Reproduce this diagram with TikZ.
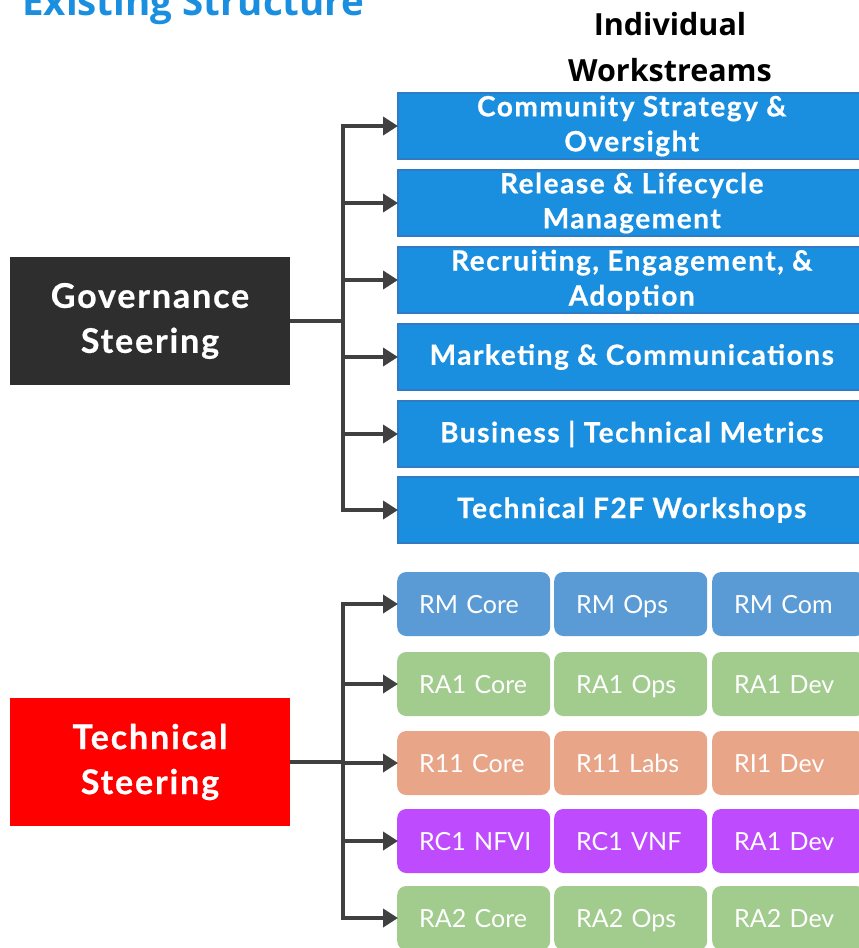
\documentclass[tikz,border=0pt]{standalone}
\usepackage{fontspec}
\setmainfont{Lato}
\newfontfamily\titlefont{Open Sans}
\newfontfamily\wsfont{Lato}[LetterSpace=5.5, BoldFeatures={FakeBold=0.6}]
\usetikzlibrary{arrows.meta}
\definecolor{wsblue}{HTML}{1A8FE0}
\definecolor{wsborder}{HTML}{2F7BC4}
\definecolor{govgray}{HTML}{2E2E2E}
\definecolor{conn}{HTML}{404040}
\definecolor{rmblue}{HTML}{5B9BD5}
\definecolor{rgreen}{HTML}{A2CB8E}
\definecolor{rorange}{HTML}{E8A587}
\definecolor{rpurple}{HTML}{BE4BFE}
\definecolor{titleblue}{HTML}{1A8FE0}
\tikzset{
  wsbox/.style={fill=wsblue, draw=wsborder, line width=1.5pt, minimum width=468pt, minimum height=66pt,
    text=white, font=\wsfont\fontsize{28}{35}\selectfont\bfseries, align=center, inner sep=0pt, anchor=west},
  steerbox/.style={minimum width=280pt, minimum height=128pt, text=white,
    font=\wsfont\fontsize{34}{45}\selectfont\bfseries, align=center, inner sep=0pt},
  wgbox/.style={rounded corners=9pt, minimum height=64pt, text=white,
    font=\fontsize{25}{29}\selectfont, align=left, text width=109pt, text height=21pt, text depth=3pt,
    inner xsep=22pt, inner ysep=0pt, anchor=west},
  linkline/.style={conn, line width=4.5pt},
  arr/.style={conn, line width=4.5pt, -{Triangle[length=15pt,width=18pt]}, shorten >=-1pt},
}
\begin{document}
\begin{tikzpicture}[x=1pt,y=-1pt]
\useasboundingbox (0,0) rectangle (859,948);
\clip (0,0) rectangle (859,948);
\fill[white] (0,0) rectangle (859,948);

\node[anchor=base west, inner sep=0pt, text=titleblue, font=\titlefont\fontsize{38.5}{42}\selectfont\bfseries] (title) at (22,15) {Existing Structure};
\node[align=center, inner sep=0pt, font=\titlefont\fontsize{30.5}{46}\selectfont\bfseries] (ind) at (670,47) {Individual\\Workstreams};

% steering boxes
\node[steerbox, fill=govgray] (gov) at (150,321) {Governance\\Steering};
\node[steerbox, fill=red] (tech) at (150,762) {Technical\\Steering};

% workstreams
\node[wsbox] (w1) at (397,126) {Community Strategy \&\\Oversight};
\node[wsbox] (w2) at (397,203) {Release \& Lifecycle\\Management};
\node[wsbox] (w3) at (397,280) {Recruiting, Engagement, \&\\Adoption};
\node[wsbox] (w4) at (397,357) {Marketing \& Communications};
\node[wsbox] (w5) at (397,434) {Business | Technical Metrics};
\node[wsbox] (w6) at (397,510) {Technical F2F Workshops};

% workgroups
\foreach \r/\y/\c/\a/\b/\d in {1/604/rmblue/RM Core/RM Ops/RM Com,
  2/684/rgreen/RA1 Core/RA1 Ops/RA1 Dev,
  3/763/rorange/R11 Core/R11 Labs/RI1 Dev,
  4/841/rpurple/RC1 NFVI/RC1 VNF/RA1 Dev,
  5/918/rgreen/RA2 Core/RA2 Ops/RA2 Dev}{
  \node[wgbox, fill=\c] (g\r a) at (397,\y) {\mbox{\a}};
  \node[wgbox, fill=\c] (g\r b) at (554,\y) {\mbox{\b}};
  \node[wgbox, fill=\c] (g\r c) at (712,\y) {\mbox{\d}};
}

% governance connectors
\coordinate (gj) at (343,321);
\coordinate (gt) at (343,126);
\coordinate (gb) at (343,510);
\draw[linkline] (gov.east) -- (gj);
\draw[linkline, line cap=rect] (gt) -- (gb);
\foreach \i in {1,...,6}{ \draw[arr] (gj |- w\i.west) -- (w\i.west); }

% technical connectors
\coordinate (tj) at (343,762);
\coordinate (tt) at (343,604);
\coordinate (tb) at (343,918);
\draw[linkline] (tech.east) -- (tj);
\draw[linkline, line cap=rect] (tt) -- (tb);
\foreach \i in {1,...,5}{ \draw[arr] (tj |- g\i a.west) -- (g\i a.west); }
\end{tikzpicture}
\end{document}
